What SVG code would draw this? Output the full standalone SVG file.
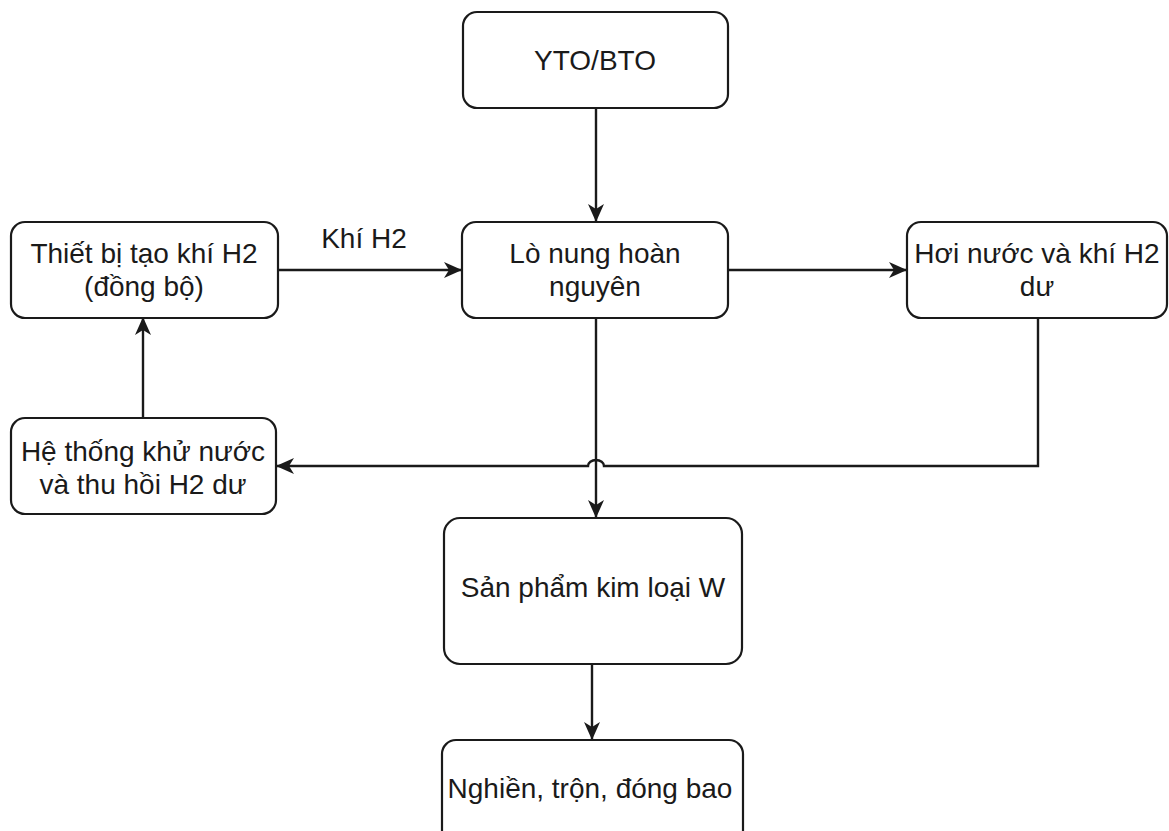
<svg xmlns="http://www.w3.org/2000/svg" width="1169" height="831" viewBox="0 0 1169 831">
<style>
.box{fill:#fff;stroke:#1a1a1a;stroke-width:2.2}
.t{font-family:"Liberation Sans",Arial,sans-serif;font-size:28px;fill:#1a1a1a;text-anchor:middle}
.c{fill:none;stroke:#1a1a1a;stroke-width:2.4}
</style>
<defs>
<marker id="ah" markerUnits="userSpaceOnUse" markerWidth="18" markerHeight="16" viewBox="0 0 18 16" refX="17" refY="8" orient="auto">
<path d="M0,0 L18,8 L0,16 L5,8 Z" fill="#1a1a1a"/>
</marker>
</defs>
<rect width="1169" height="831" fill="#fff"/>
<g id="connectors">
<path class="c" d="M596,108 V221" marker-end="url(#ah)"/>
<path class="c" d="M278,270 H461" marker-end="url(#ah)"/>
<text class="t" x="364" y="248">Khí H2</text>
<path class="c" d="M728,270 H906" marker-end="url(#ah)"/>
<path class="c" d="M596,318 V517" marker-end="url(#ah)"/>
<path class="c" d="M1038,318 V466 H604 A8,6 0 0 0 588,466 H277" marker-end="url(#ah)"/>
<path class="c" d="M143,418 V318" marker-end="url(#ah)"/>
<path class="c" d="M592,664 V739" marker-end="url(#ah)"/>
</g>
<g id="yto">
<rect class="box" x="463" y="12" width="265" height="96" rx="14"/>
<text class="t" x="595" y="70">YTO/BTO</text>
</g>
<g id="lo-nung">
<rect class="box" x="462" y="222" width="266" height="96" rx="14"/>
<text class="t" x="595" y="263">Lò nung hoàn</text>
<text class="t" x="595" y="296">nguyên</text>
</g>
<g id="thiet-bi">
<rect class="box" x="11" y="222" width="267" height="96" rx="14"/>
<text class="t" x="144" y="263">Thiết bị tạo khí H2</text>
<text class="t" x="144" y="296">(đồng bộ)</text>
</g>
<g id="hoi-nuoc">
<rect class="box" x="907" y="222" width="260" height="96" rx="14"/>
<text class="t" x="1037" y="263">Hơi nước và khí H2</text>
<text class="t" x="1037" y="296">dư</text>
</g>
<g id="he-thong">
<rect class="box" x="11" y="418" width="265" height="96" rx="14"/>
<text class="t" x="143" y="461">Hệ thống khử nước</text>
<text class="t" x="143" y="494">và thu hồi H2 dư</text>
</g>
<g id="san-pham">
<rect class="box" x="444" y="518" width="298" height="146" rx="16"/>
<text class="t" x="593" y="597">Sản phẩm kim loại W</text>
</g>
<g id="nghien">
<rect class="box" x="442" y="740" width="301" height="110" rx="14"/>
<text class="t" x="590" y="798">Nghiền, trộn, đóng bao</text>
</g>
</svg>
